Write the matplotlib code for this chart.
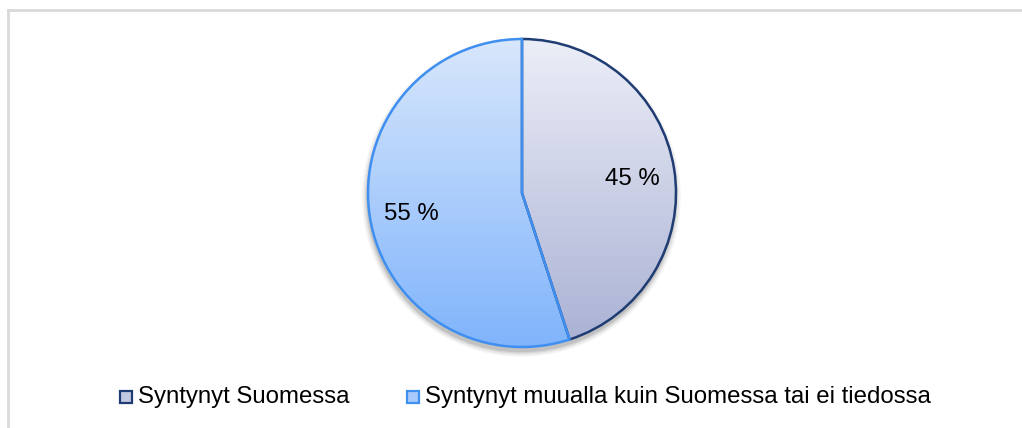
import matplotlib
matplotlib.use("Agg")
import matplotlib.pyplot as plt
import numpy as np
from matplotlib.patches import Rectangle, Circle
from matplotlib.lines import Line2D
from matplotlib.colors import LinearSegmentedColormap

categories = ["Syntynyt Suomessa", "Syntynyt muualla kuin Suomessa tai ei tiedossa"]
values = [45, 55]

plt.rcParams['font.family'] = ['Liberation Sans', 'DejaVu Sans']

W, H = 1022, 428
fig = plt.figure(figsize=(W / 100, H / 100), dpi=100)
fig.patch.set_facecolor('white')

# outer border (cropped at right/bottom)
fig.add_artist(Line2D([7.5 / W, 7.5 / W], [0, 1 - 9.5 / H], color='#d9d9d9', lw=2.0))
fig.add_artist(Line2D([7.5 / W, 1], [1 - 9.5 / H, 1 - 9.5 / H], color='#d9d9d9', lw=2.0))

cx, cy, r = 522, 193, 154
ax = fig.add_axes([(cx - r) / W, (H - cy - r) / H, 2 * r / W, 2 * r / H])
ax.set_axis_off()

# shadow
for dr, a in [(0.035, 0.04), (0.025, 0.05), (0.015, 0.07), (0.006, 0.10)]:
    ax.add_patch(Circle((-0.004, -0.028), 1 + dr, color='#000000', alpha=a, lw=0,
                        zorder=0, clip_on=False))

edge_colors = ['#1f3c73', '#3f8ff0']
wedges, texts, autotexts = ax.pie(
    values, startangle=90, counterclock=False, radius=1,
    autopct=lambda p: f"{p:.0f} %", pctdistance=0.725,
    wedgeprops=dict(linewidth=1.8), textprops=dict(fontsize=17.3, color='black'))

grads = [('#eceef7', '#a9b1d4'), ('#d8e7fc', '#80b4fb')]
for w, ec, (top, bot) in zip(wedges, edge_colors, grads):
    w.set_facecolor('none')
    w.set_edgecolor(ec)
    w.set_zorder(3)
    w.set_clip_on(False)
    cmap = LinearSegmentedColormap.from_list('g', [bot, top])
    grad = np.linspace(0, 1, 256).reshape(-1, 1)
    im = ax.imshow(grad, cmap=cmap, extent=(-1, 1, -1, 1), origin='lower',
                   aspect='auto', zorder=2, interpolation='bilinear')
    im.set_clip_path(w)
for t in autotexts:
    t.set_zorder(5)
    x, y = t.get_position()
    t.set_position((x, y - 0.025))

ax.set_xlim(-1, 1)
ax.set_ylim(-1, 1)

# legend (manual)
legend_x = [120, 407]
ly = 397
sq = 12
legend_faces = [('#c4c9e2', '#1f3c73'), ('#a9cbfb', '#3f8ff0')]
for x, lab, (fc, ec) in zip(legend_x, categories, legend_faces):
    fig.add_artist(Rectangle((x / W, (H - ly - sq / 2) / H), sq / W, sq / H,
                             facecolor=fc, edgecolor=ec, lw=1.6, transform=fig.transFigure))
    fig.text((x + sq + 6) / W, (H - ly) / H, lab, fontsize=17.3, va='center', ha='left', color='black')

fig.savefig('out.png', dpi=100)
